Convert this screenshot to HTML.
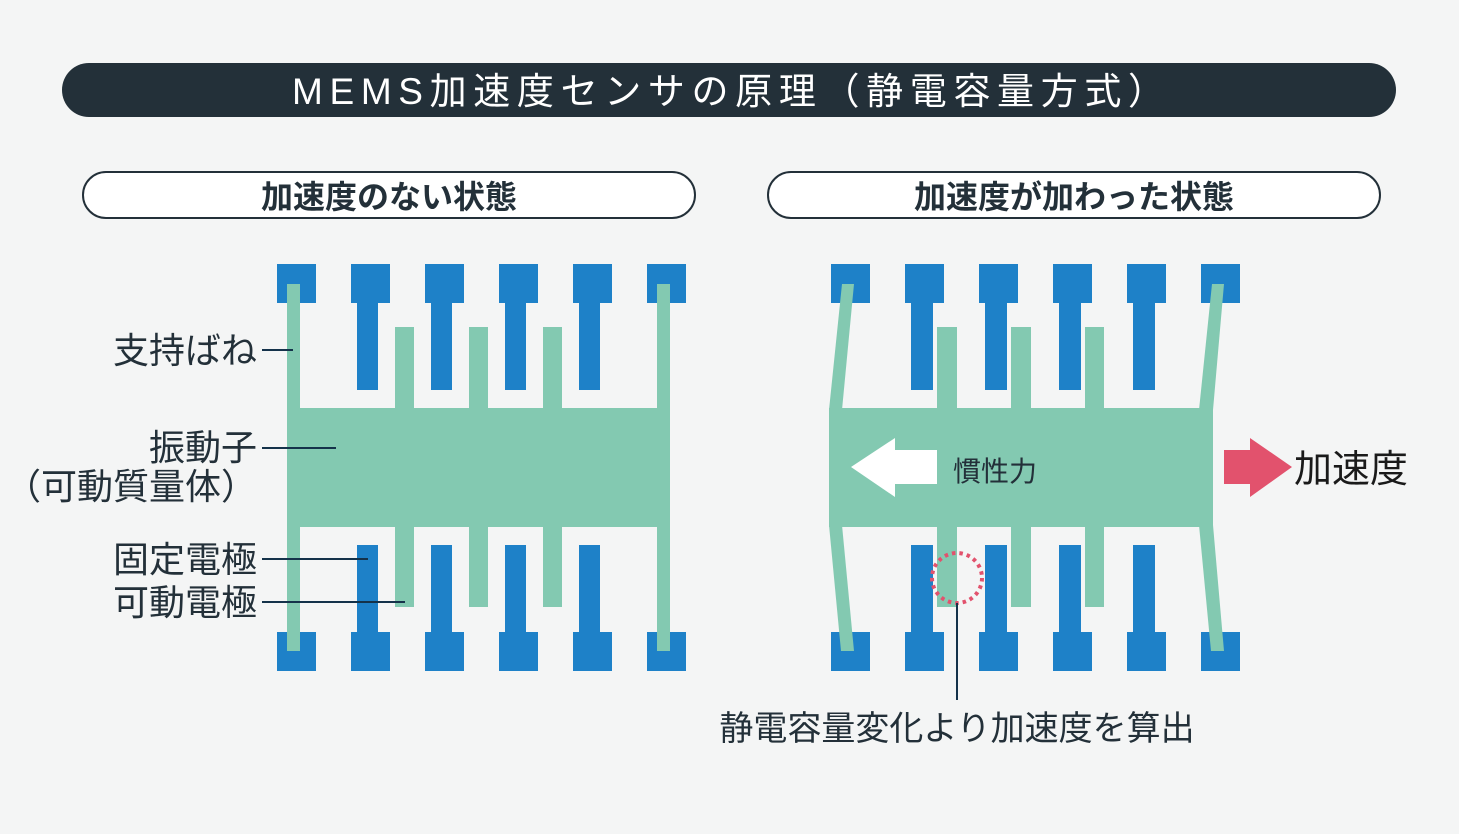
<!DOCTYPE html>
<html><head><meta charset="utf-8"><style>
html,body{margin:0;padding:0;background:#f4f5f5;}
svg{display:block;}
text{font-family:"Liberation Sans","Noto Sans CJK JP",sans-serif;}
</style></head><body>
<svg width="1459" height="834" viewBox="0 0 1459 834" xmlns="http://www.w3.org/2000/svg">
<rect width="1459" height="834" fill="#f4f5f5"/>
<rect x="62" y="63" width="1334" height="54" rx="27" fill="#233039"/>
<text x="292" y="104" font-size="37" fill="#fff" textLength="873" lengthAdjust="spacing">MEMS加速度センサの原理（静電容量方式）</text>

<rect x="83" y="172" width="612" height="46" rx="23" fill="#fff" stroke="#233039" stroke-width="2"/>
<text x="389" y="208" font-size="32" font-weight="bold" fill="#233039" text-anchor="middle">加速度のない状態</text>
<rect x="768" y="172" width="612" height="46" rx="23" fill="#fff" stroke="#233039" stroke-width="2"/>
<text x="1074" y="208" font-size="32" font-weight="bold" fill="#233039" text-anchor="middle">加速度が加わった状態</text>

<!-- LEFT -->
<g fill="#1e81c8">
<rect x="277" y="264" width="39" height="39"/><rect x="351" y="264" width="39" height="39"/><rect x="425" y="264" width="39" height="39"/><rect x="499" y="264" width="39" height="39"/><rect x="573" y="264" width="39" height="39"/><rect x="647" y="264" width="39" height="39"/>
<rect x="277" y="632" width="39" height="39"/><rect x="351" y="632" width="39" height="39"/><rect x="425" y="632" width="39" height="39"/><rect x="499" y="632" width="39" height="39"/><rect x="573" y="632" width="39" height="39"/><rect x="647" y="632" width="39" height="39"/>
<rect x="357" y="303" width="21" height="87"/><rect x="431" y="303" width="21" height="87"/><rect x="505" y="303" width="21" height="87"/><rect x="579" y="303" width="21" height="87"/>
<rect x="357" y="545" width="21" height="87"/><rect x="431" y="545" width="21" height="87"/><rect x="505" y="545" width="21" height="87"/><rect x="579" y="545" width="21" height="87"/>
</g>
<g fill="#83c9b1">
<rect x="287" y="284" width="13" height="367"/><rect x="657" y="284" width="13" height="367"/>
<rect x="287" y="408" width="383" height="119"/>
<rect x="395" y="327" width="19" height="81"/><rect x="469" y="327" width="19" height="81"/><rect x="543" y="327" width="19" height="81"/>
<rect x="395" y="527" width="19" height="80"/><rect x="469" y="527" width="19" height="80"/><rect x="543" y="527" width="19" height="80"/>
</g>
<g stroke="#14324a" stroke-width="2">
<line x1="262" y1="350" x2="293" y2="350"/>
<line x1="262" y1="448" x2="336" y2="448"/>
<line x1="262" y1="559" x2="368" y2="559"/>
<line x1="262" y1="602" x2="405" y2="602"/>
</g>
<g font-size="36" fill="#233039" text-anchor="end">
<text x="257" y="363">支持ばね</text>
<text x="257" y="460">振動子</text>
<text x="257" y="499">（可動質量体）</text>
<text x="257" y="572">固定電極</text>
<text x="257" y="615">可動電極</text>
</g>

<!-- RIGHT -->
<g fill="#1e81c8">
<rect x="831" y="264" width="39" height="39"/><rect x="905" y="264" width="39" height="39"/><rect x="979" y="264" width="39" height="39"/><rect x="1053" y="264" width="39" height="39"/><rect x="1127" y="264" width="39" height="39"/><rect x="1201" y="264" width="39" height="39"/>
<rect x="831" y="632" width="39" height="39"/><rect x="905" y="632" width="39" height="39"/><rect x="979" y="632" width="39" height="39"/><rect x="1053" y="632" width="39" height="39"/><rect x="1127" y="632" width="39" height="39"/><rect x="1201" y="632" width="39" height="39"/>
<rect x="911" y="303" width="22" height="87"/><rect x="985" y="303" width="22" height="87"/><rect x="1059" y="303" width="22" height="87"/><rect x="1133" y="303" width="22" height="87"/>
<rect x="911" y="545" width="22" height="87"/><rect x="985" y="545" width="22" height="87"/><rect x="1059" y="545" width="22" height="87"/><rect x="1133" y="545" width="22" height="87"/>
</g>
<g fill="#83c9b1">
<rect x="829" y="408" width="384" height="119"/>
<polygon points="842,284 854,284 842,410 829,410"/>
<polygon points="829,525 842,525 854,651 841,651"/>
<polygon points="1212,284 1224,284 1213,410 1199,410"/>
<polygon points="1199,525 1213,525 1224,651 1211,651"/>
<rect x="937" y="327" width="20" height="81"/><rect x="1011" y="327" width="20" height="81"/><rect x="1085" y="327" width="19" height="81"/>
<rect x="937" y="527" width="20" height="80"/><rect x="1011" y="527" width="20" height="80"/><rect x="1085" y="527" width="19" height="80"/>
</g>
<polygon points="851,467 895,438 895,450 937,450 937,484 895,484 895,497" fill="#fff"/>
<text x="953" y="481" font-size="28" fill="#233039">慣性力</text>
<polygon points="1224,450 1250,450 1250,438 1292,467 1250,497 1250,484 1224,484" fill="#e2526d"/>
<text x="1294" y="482" font-size="38" fill="#1a1a1a">加速度</text>

<circle cx="957" cy="578" r="25" fill="none" stroke="#e2526d" stroke-width="4" stroke-dasharray="3.5 4"/>
<line x1="957" y1="603" x2="957" y2="700" stroke="#14324a" stroke-width="2"/>
<text x="957" y="740" font-size="34" fill="#233039" text-anchor="middle">静電容量変化より加速度を算出</text>
</svg>
</body></html>
